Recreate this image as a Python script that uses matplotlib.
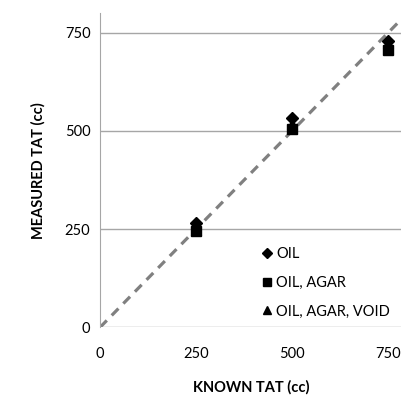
import matplotlib.pyplot as plt

plt.rcParams['font.family'] = ['Lato', 'DejaVu Sans']

known = [250, 500, 750]
oil = [265, 534, 730]
oil_agar = [245, 506, 707]
oil_agar_void = [247, 518, 725]
ticks = [0, 250, 500, 750]

fig = plt.figure(figsize=(4.02, 3.96), dpi=100)
ax = fig.add_axes([0.249, 0.1735, 0.751, 0.7935])

ax.plot([0, 800], [0, 800], linestyle=(0, (3, 2.2)), color="#808080", linewidth=2.3, zorder=2)

ax.plot(known, oil, linestyle="none", marker="D", markersize=6.5, color="black", label="OIL", zorder=3)
ax.plot(known, oil_agar, linestyle="none", marker="s", markersize=6.5, color="black", label="OIL, AGAR", zorder=3)
ax.plot(known, oil_agar_void, linestyle="none", marker="^", markersize=7.5, color="black", label="OIL, AGAR, VOID", zorder=3)

ax.set_xlim(0, 786)
ax.set_ylim(0, 800)
ax.set_xticks(ticks)
ax.set_yticks(ticks)
ax.tick_params(length=0, labelsize=10.5, colors="black", pad=7)
ax.tick_params(axis="x", pad=14)
ax.grid(axis="y", color="#a6a6a6", linewidth=1)
ax.set_axisbelow(True)

for side in ["top", "right", "bottom"]:
    ax.spines[side].set_visible(False)
ax.spines["left"].set_color("#a6a6a6")

ax.set_xlabel("KNOWN TAT (cc)", fontsize=10.5, fontweight="bold", labelpad=14)
ax.set_ylabel("MEASURED TAT (cc)", fontsize=10.5, fontweight="bold", labelpad=14)

ax.legend(loc="lower right", bbox_to_anchor=(0.99, 0.0), frameon=False, fontsize=10.5,
          handlelength=0.7, handletextpad=0.3, labelspacing=1.0, borderaxespad=0.2,
          markerscale=0.85)

fig.savefig("out.png", dpi=100)
